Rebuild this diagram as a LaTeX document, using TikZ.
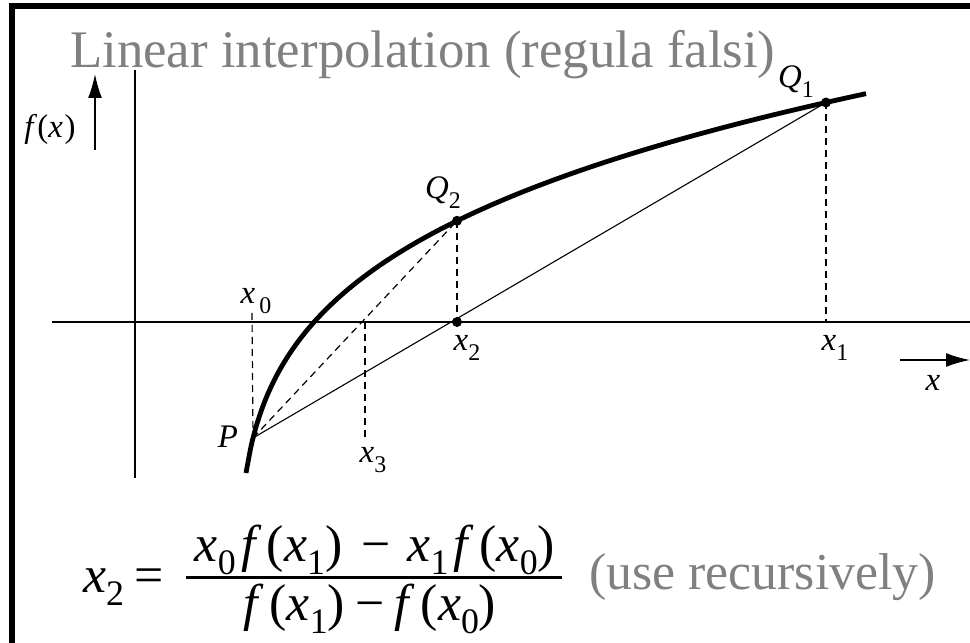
\documentclass[tikz,border=0pt]{standalone}
\usepackage{fontspec}
\setmainfont{Liberation Serif}
\newfontfamily\serifit{Liberation Serif Italic}
\usetikzlibrary{arrows.meta}
\definecolor{titlegray}{RGB}{128,128,128}
\newcommand\iv[1]{{\serifit #1}}
\newcommand\lbl[2]{\iv{#1}\raisebox{-0.3em}{\fontsize{24}{24}\selectfont #2}}
\newcommand\fsub[1]{\raisebox{-0.26em}{\fontsize{36}{36}\selectfont #1}}
\newcommand\gap[1]{\hspace{#1em}}
\begin{document}
\begin{tikzpicture}[x=1bp,y=-1bp,
  lab/.style={font=\fontsize{33}{36}\selectfont, inner sep=0},
  fml/.style={font=\fontsize{52}{60}\selectfont, inner sep=0, anchor=base},
  dot/.style={circle, fill=black, inner sep=0, minimum size=10bp},
  axis/.style={line width=1.6bp},
  curve/.style={line width=4.8bp},
  thinline/.style={line width=1.1bp},
  dashline/.style={line width=1.2bp, dash pattern=on 7bp off 5bp},
  arr/.style={-{Latex[length=24bp,width=14bp]}, line width=1.6bp}]
\useasboundingbox (0,0) rectangle (970,643);
\fill[white] (0,0) rectangle (970,643);
% frame
\draw[line width=6bp] (12,643) -- (12,6) -- (970,6);
% title
\node[anchor=base west, text=titlegray, font=\fontsize{53}{60}\selectfont, inner sep=0] (title) at (70,68) {Linear interpolation (regula falsi)};
% axes
\coordinate (vtop) at (135,70);
\coordinate (vbot) at (135,478);
\coordinate (hleft) at (52,322);
\coordinate (hright) at (970,322);
\draw[axis] (vtop) -- (vbot);
\draw[axis] (hleft) -- (hright);
% axis arrows
\coordinate (fxtail) at (95,150);
\coordinate (fxtip) at (95,74);
\draw[arr] (fxtail) -- (fxtip);
\node[lab] (fx) at (50,129) {\iv{f}\gap{0.12}(\iv{x}\gap{0.05})};
\coordinate (xtail) at (900,360);
\coordinate (xtip) at (970,360);
\draw[arr] (xtail) -- (xtip);
\node[lab] (xl) at (933,383) {\iv{x}};
% curve
\draw[curve] plot[domain=246:866, samples=120, smooth] (\x, {438 - 149*((\x-238)^0.22 - 1.815)});
% points
\coordinate (P) at (253,438);
\node[dot] (Q2) at (457,220.8) {};
\node[dot] (Q1) at (826,102.5) {};
\node[dot] (X2) at (457,322) {};
\coordinate (X0top) at (252,313);
\coordinate (X3) at (365,322);
\coordinate (X3bot) at (365,440);
\coordinate (X1) at (826,322);
% lines
\draw[thinline] (P) -- (Q1.center);
\draw[dashline] (P) -- (Q2.center);
\draw[dashline] (Q2.center) -- (X2.center);
\draw[dashline] (Q1.center) -- (X1);
\draw[dashline] (X0top) -- (P);
\draw[dashline] (X3) -- (X3bot);
% labels
\node[lab] (lx0) at (256,301) {\lbl{x}{\,0}};
\node[lab] (lP) at (228,437) {\iv{P}};
\node[lab] (lx3) at (373,460) {\lbl{x}{3}};
\node[lab] (lx2) at (467,348) {\lbl{x}{2}};
\node[lab] (lx1) at (835,348) {\lbl{x}{1}};
\node[lab] (lQ2) at (443,193) {\lbl{Q}{2}};
\node[lab] (lQ1) at (796,82) {\lbl{Q}{1}};
% formula
\node[fml, anchor=base west] (lhs) at (83,592) {\iv{x}\fsub{2}\gap{0.2}=};
\coordinate (barL) at (186,577);
\coordinate (barR) at (562,577);
\draw[line width=3bp] (barL) -- (barR);
\node[fml] (num) at (375,561) {\iv{x}\fsub{0}\gap{0.1}\iv{f}\gap{0.22}(\iv{x}\fsub{1})\gap{0.38}−\gap{0.32}\iv{x}\fsub{1}\gap{0.1}\iv{f}\gap{0.22}(\iv{x}\fsub{0})};
\node[fml] (den) at (370,620) {\iv{f}\gap{0.22}(\iv{x}\fsub{1})\gap{0.2}−\gap{0.2}\iv{f}\gap{0.22}(\iv{x}\fsub{0})};
\node[anchor=base west, text=titlegray, font=\fontsize{52}{60}\selectfont, inner sep=0] (note) at (589,589) {(use recursively)};
\end{tikzpicture}
\end{document}
